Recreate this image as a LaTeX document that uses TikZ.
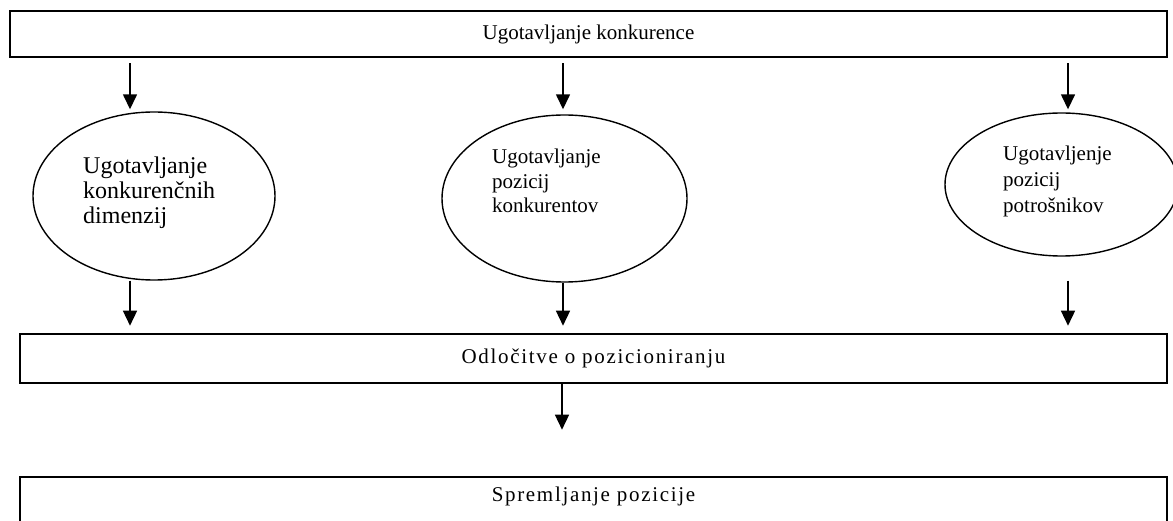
\documentclass[tikz,border=0pt]{standalone}
\usepackage{fontspec}
\setmainfont{Liberation Serif}
\newfontfamily\spacedserif[LetterSpace=8]{Liberation Serif}
\usetikzlibrary{shapes.geometric,arrows.meta}
\begin{document}
\begin{tikzpicture}[x=1pt,y=-1pt,
  box/.style={draw, rectangle, line width=2.6pt, inner sep=0pt},
  oval/.style={draw, ellipse, line width=1.4pt, inner sep=0pt},
  arr/.style={line width=1.5pt, -{Triangle[width=14pt,length=15pt]}},
  lbl/.style={inner sep=0pt, anchor=base west, align=left},
  boxtext/.style={font=\fontsize{21}{24}\selectfont},
  spaced/.style={font=\spacedserif\fontsize{21}{24}\selectfont}]
\useasboundingbox (0,0) rectangle (1173,521);
\clip (0,0) rectangle (1173,521);

% three rows of boxes
\node[box, boxtext, minimum width=1157pt, minimum height=46pt] (top) at (588.5,34) {Ugotavljanje konkurence};
\node[box, spaced, minimum width=1147pt, minimum height=49pt] (mid) at (593.5,358.5) {Odločitve o pozicioniranju};
\node[box, minimum width=1147pt, minimum height=83pt] (bot) at (593.5,518.5) {};
\node[spaced, inner sep=0pt, anchor=base] (bottxt) at (593.5,501) {Spremljanje pozicije};

% the three analysis steps
\node[oval, minimum width=242pt, minimum height=168pt] (e1) at (154,196) {};
\node[oval, minimum width=245pt, minimum height=167pt] (e2) at (564.5,198.5) {};
\node[oval, minimum width=233pt, minimum height=143pt] (e3) at (1061.5,184.5) {};

% labels, placed by the baseline of their last line
\node[lbl, font=\fontsize{24}{25}\selectfont] (t1) at (83,224) {Ugotavljanje\\konkurenčnih\\dimenzij};
\node[lbl, font=\fontsize{21}{24.5}\selectfont] (t2) at (492,213) {Ugotavljanje\\pozicij\\konkurentov};
\node[lbl, font=\fontsize{21}{26}\selectfont] (t3) at (1003,213) {Ugotavljenje\\pozicij\\potrošnikov};

% arrow columns
\coordinate (c1) at (130,0);
\coordinate (c2) at (563,0);
\coordinate (c3) at (1068,0);
\coordinate (c4) at (562,0);

\draw[arr] ([yshift=-5pt]top.south -| c1) -- ([yshift=2pt]e1.north -| c1);
\draw[arr] ([yshift=-5pt]top.south -| c2) -- ([yshift=5pt]e2.north -| c2);
\draw[arr] ([yshift=-5pt]top.south -| c3) -- ([yshift=3pt]e3.north -| c3);

\draw[arr] (e1.south -| c1) -- ([yshift=7pt]mid.north -| c1);
\draw[arr] (e2.south -| c2) -- ([yshift=7pt]mid.north -| c2);
\draw[arr] ([yshift=-24pt]e3.south -| c3) -- ([yshift=7pt]mid.north -| c3);

\draw[arr] (mid.south -| c4) -- ([yshift=46pt]bot.north -| c4);
\end{tikzpicture}
\end{document}
